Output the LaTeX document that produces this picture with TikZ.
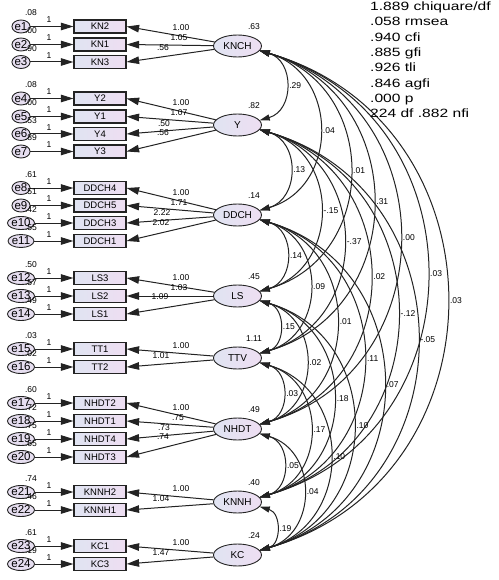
\documentclass[tikz,border=0pt]{standalone}
\usepackage{fontspec}
\usepackage{graphicx}
\setmainfont{Liberation Sans}
\usetikzlibrary{arrows.meta,shapes.geometric}
\definecolor{lnc}{RGB}{35,35,35}
\definecolor{fillL}{RGB}{224,228,242}
\definecolor{fillR}{RGB}{238,222,242}
\definecolor{errfill}{RGB}{230,222,240}
\begin{document}
\begin{tikzpicture}[x=1pt,y=-1pt,
  obs/.style={draw=lnc, line width=1.2pt, left color=fillL, right color=fillR,
    minimum width=52pt, minimum height=13pt, inner sep=0pt,
    font=\fontsize{9.5}{10}\selectfont},
  lat/.style={ellipse, draw=lnc, line width=0.9pt, left color=fillL, right color=fillR,
    minimum width=48pt, minimum height=22pt, inner sep=0pt,
    font=\fontsize{10}{11}\selectfont},
  err/.style={ellipse, draw=lnc, line width=0.9pt, fill=errfill,
    minimum width=18pt, minimum height=13pt, inner sep=0pt,
    font=\fontsize{11.5}{12}\selectfont},
  lab/.style={font=\fontsize{8.5}{9}\selectfont, inner sep=0pt},
  stat/.style={anchor=base west, inner sep=0pt, font=\fontsize{12}{12}\selectfont},
  ld/.style={draw=lnc, line width=1pt, -{Triangle[length=12.5pt,width=7.5pt]}},
  cv/.style={draw=lnc, line width=1pt,
    {Triangle[length=10pt,width=6pt]}-{Triangle[length=10pt,width=6pt]}},
]
\useasboundingbox (0,0) rectangle (498,580);
\fill[white] (0,0) rectangle (498,580);

% latent variables
\foreach \n/\yy/\v in {KNCH/46/.63, Y/125/.82, DDCH/215/.14, LS/296/.45,
    TTV/358/1.11, NHDT/429/.49, KNNH/502/.40, KC/555/.24}{
  \node[lat] (\n) at (237.5,\yy) {\n};
  \node[lab] (var\n) at (254,\yy-19) {\v};
}

% observed variables and errors
\foreach \n/\t/\yy/\e/\v in {kn2/KN2/26.5/e1/.08, kn1/KN1/44.5/e2/.00, kn3/KN3/62/e3/.90,
    y2/Y2/98.5/e4/.08, y1/Y1/116.5/e5/.00, y4/Y4/134/e6/.53, y3/Y3/151.5/e7/.89,
    d4/DDCH4/188/e8/.61, d5/DDCH5/205.5/e9/.51, d3/DDCH3/223/e10/.42, d1/DDCH1/241/e11/.55,
    ls3/LS3/278/e12/.50, ls2/LS2/296/e13/.57, ls1/LS1/314/e14/.49,
    tt1/TT1/349/e15/.03, tt2/TT2/367/e16/.02,
    n2/NHDT2/403/e17/.60, n1/NHDT1/421/e18/.72, n4/NHDT4/439/e19/.75, n3/NHDT3/457/e20/.65,
    kk2/KNNH2/492/e21/.74, kk1/KNNH1/510/e22/.46,
    kc1/KC1/546/e23/.61, kc3/KC3/564/e24/.19}{
  \node[obs] (\n) at (100,\yy) {\t};
  \node[err] (\e) at (21,\yy) {\e};
  \draw[ld] (\e) -- (\n);
  \node[lab] (one\n) at (49,\yy-6.5) {1};
  \node[lab] (ev\n) at (31,\yy-13.5) {\v};
}

% loadings
\foreach \l/\o/\x/\yy/\v in {KNCH/kn2/181/28/1.00, KNCH/kn1/179/38/1.05, KNCH/kn3/163/48/.56,
    Y/y2/181/103/1.00, Y/y1/179/113/1.07, Y/y4/164/124/.50, Y/y3/163/133/.56,
    DDCH/d4/181/193/1.00, DDCH/d5/179/203/1.71, DDCH/d3/162/213/2.22, DDCH/d1/161/223/2.02,
    LS/ls3/181/278/1.00, LS/ls2/179/288/1.03, LS/ls1/160/297/1.09,
    TTV/tt1/181/346/1.00, TTV/tt2/161/356/1.01,
    NHDT/n2/181/408/1.00, NHDT/n1/178/418/.75, NHDT/n4/164/428/.73, NHDT/n3/163/437/.74,
    KNNH/kk2/181/489/1.00, KNNH/kk1/161/499/1.04,
    KC/kc1/181/543/1.00, KC/kc3/161/553/1.47}{
  \draw[ld] (\l) -- (\o.east);
  \node[lab] (ld\o) at (\x,\yy) {\v};
}

% covariances
\foreach \a/\b/\v in {KNCH/Y/.29, KNCH/DDCH/.04, KNCH/LS/.01, KNCH/TTV/.31,
    KNCH/NHDT/.00, KNCH/KNNH/.03, KNCH/KC/.03,
    Y/DDCH/.13, Y/LS/-.15, Y/TTV/-.37, Y/NHDT/.02, Y/KNNH/-.12, Y/KC/-.05,
    DDCH/LS/.14, DDCH/TTV/.09, DDCH/NHDT/.01, DDCH/KNNH/.11, DDCH/KC/.07,
    LS/TTV/.15, LS/NHDT/.02, LS/KNNH/.18, LS/KC/.10,
    TTV/NHDT/.03, TTV/KNNH/.17, TTV/KC/.10,
    NHDT/KNNH/.05, NHDT/KC/.04,
    KNNH/KC/.19}{
  \draw[cv] (\a.-12) to[bend left=74, looseness=1.33]
    node[lab, anchor=west, pos=0.5, xshift=3pt] (c\a\b) {\v} (\b.12);
}

% fit statistics
\node[stat] (s1) at (370,10.7) {\scalebox{1.3}[1]{1.889 chiquare/df}};
\node[stat] (s2) at (370,26.0) {\scalebox{1.3}[1]{.058 rmsea}};
\node[stat] (s3) at (370,41.3) {\scalebox{1.3}[1]{.940 cfi}};
\node[stat] (s4) at (370,56.6) {\scalebox{1.3}[1]{.885 gfi}};
\node[stat] (s5) at (370,71.9) {\scalebox{1.3}[1]{.926 tli}};
\node[stat] (s6) at (370,87.2) {\scalebox{1.3}[1]{.846 agfi}};
\node[stat] (s7) at (370,102.5) {\scalebox{1.3}[1]{.000 p}};
\node[stat] (s8) at (370,117.8) {\scalebox{1.3}[1]{224 df .882 nfi}};
\end{tikzpicture}
\end{document}
